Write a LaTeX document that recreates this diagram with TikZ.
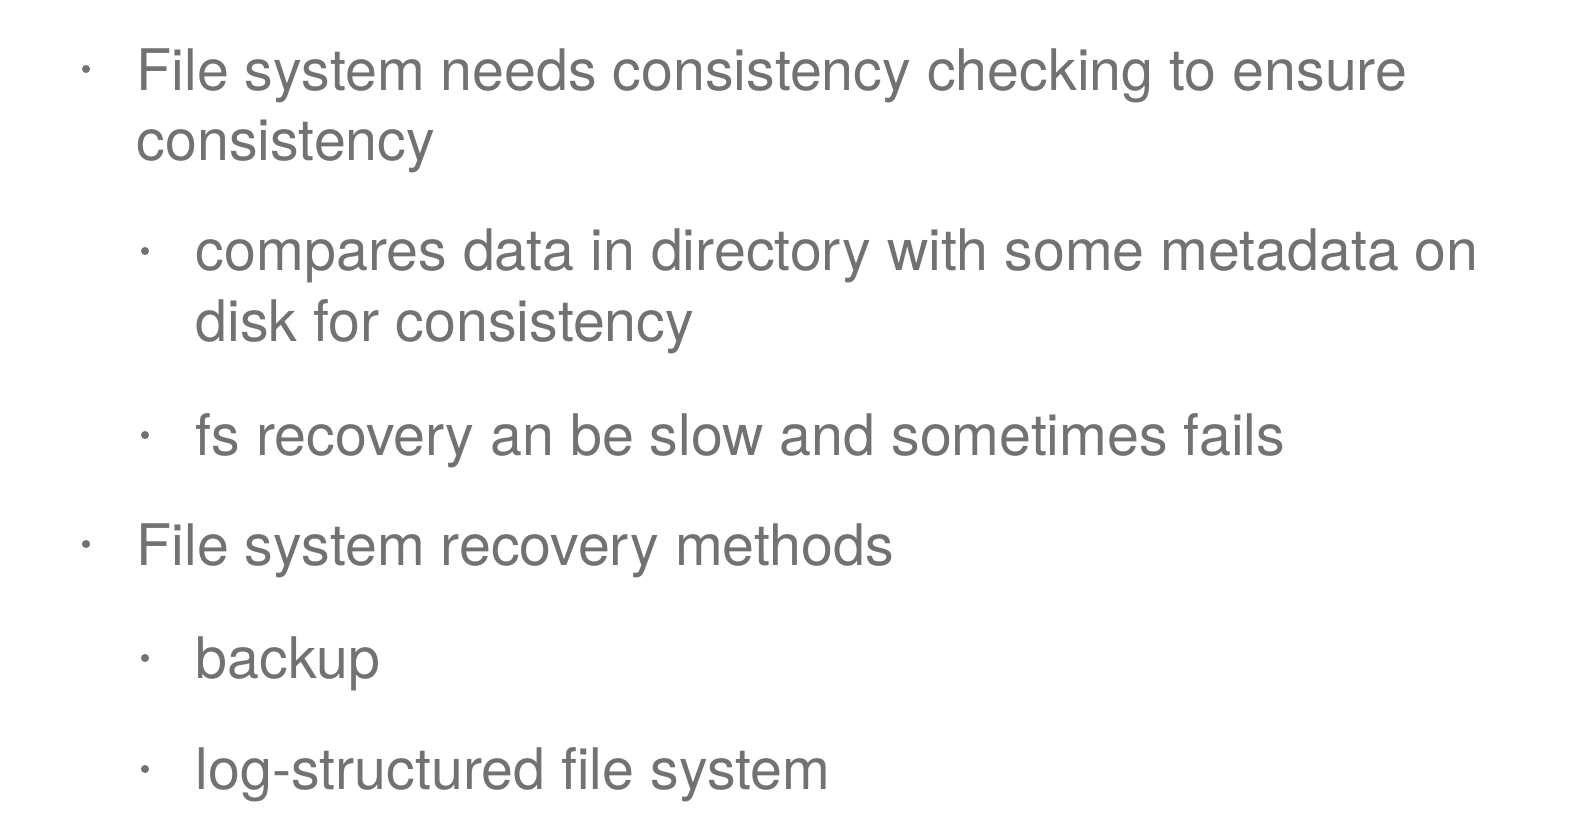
\documentclass[tikz,border=0pt]{standalone}
\usepackage{fontspec}
\setmainfont{TeX Gyre Heros}
\usepackage{xcolor}
\definecolor{slategray}{RGB}{114,114,114}
\tikzset{
    item/.style={anchor=base west, inner sep=0pt, text=slategray, font=\fontsize{16.3pt}{19pt}\selectfont},
    dot/.style={circle, fill=slategray, inner sep=0pt, minimum size=2.3pt}
}

\begin{document}
\begin{tikzpicture}[x=0.01cm, y=-0.01cm]

        \useasboundingbox (0,0) rectangle (1586,818);

        \node[dot] (b1) at (86,69) {};
        \node[item] (a1) at (136,90) {File system needs consistency checking to ensure};
        \node[item] (a2) at (136,160) {consistency};

        \node[dot] (b2) at (145,251) {};
        \node[item] (c1) at (195,270) {compares data in directory with some metadata on};
        \node[item] (c2) at (195,341) {disk for consistency};

        \node[dot] (b3) at (145,435) {};
        \node[item] (d1) at (195,455) {fs recovery an be slow and sometimes fails};

        \node[dot] (b4) at (86,544) {};
        \node[item] (e1) at (136,565) {File system recovery methods};

        \node[dot] (b5) at (145,658) {};
        \node[item] (f1) at (195,678) {backup};

        \node[dot] (b6) at (145,769) {};
        \node[item] (g1) at (195,789) {log-structured file system};

\end{tikzpicture}
\end{document}
